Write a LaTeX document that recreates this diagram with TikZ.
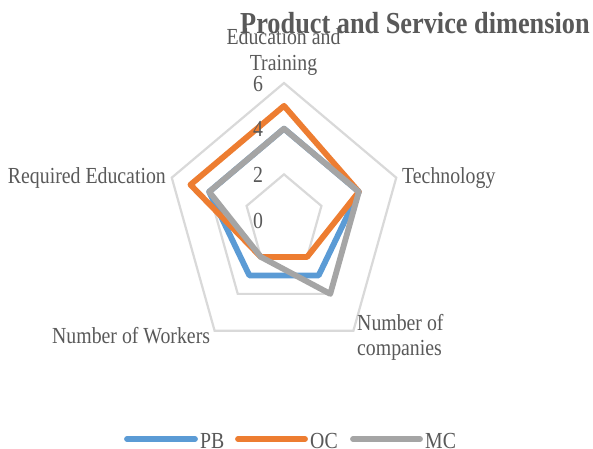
\documentclass[tikz,border=0pt]{standalone}
\usepackage{fontspec}
\setmainfont{Liberation Serif}
\definecolor{pbc}{HTML}{5B9BD5}
\definecolor{occ}{HTML}{ED7D31}
\definecolor{mcc}{HTML}{A5A5A5}
\definecolor{gridc}{HTML}{D9D9D9}
\definecolor{txtc}{HTML}{595959}
\newcommand{\vs}[1]{\scalebox{1}[1.16]{#1}}
\begin{document}
\begin{tikzpicture}[x=1pt,y=-1pt,
  lbl/.style={font=\fontsize{19.8}{22}\selectfont, text=txtc, inner sep=0pt},
  titlestyle/.style={font=\fontsize{26.3}{30}\selectfont\bfseries, text=txtc, inner sep=0pt},
  gridline/.style={draw=gridc, line width=2.2pt, line join=miter},
  series/.style={line width=5.8pt, line join=round},
  legline/.style={line width=5.8pt, line cap=round}]
\useasboundingbox (0,0) rectangle (593,448);
\fill[white] (0,0) rectangle (593,448);
\begin{scope}[shift={(284,220)}, x=19.67pt, y=22.83pt]
  \foreach \r in {2,4,6} {
    \draw[gridline] (0,\r) -- ({\r*sin(72)},{\r*cos(72)}) -- ({\r*sin(144)},{\r*cos(144)})
      -- ({\r*sin(216)},{\r*cos(216)}) -- ({\r*sin(288)},{\r*cos(288)}) -- cycle;
  }
  \foreach \k/\v in {0/4,1/4,2/3,3/3,4/4} \coordinate (pb\k) at ({\v*sin(72*\k)},{\v*cos(72*\k)});
  \foreach \k/\v in {0/5,1/4,2/2,3/2,4/5} \coordinate (oc\k) at ({\v*sin(72*\k)},{\v*cos(72*\k)});
  \foreach \k/\v in {0/4,1/4,2/4,3/2,4/4} \coordinate (mc\k) at ({\v*sin(72*\k)},{\v*cos(72*\k)});
  \draw[series, pbc] (pb0) -- (pb1) -- (pb2) -- (pb3) -- (pb4) -- cycle;
  \draw[series, occ] (oc0) -- (oc1) -- (oc2) -- (oc3) -- (oc4) -- cycle;
  \draw[series, mcc] (mc0) -- (mc1) -- (mc2) -- (mc3) -- (mc4) -- cycle;
\end{scope}
% tick labels
\node[lbl, anchor=base] (t6) at (258,91) {\vs{6}};
\node[lbl, anchor=base] (t4) at (258,136) {\vs{4}};
\node[lbl, anchor=base] (t2) at (258,182) {\vs{2}};
\node[lbl, anchor=base] (t0) at (258,228) {\vs{0}};
% axis labels
\node[lbl, anchor=base] (edu1) at (283.5,44) {\vs{Education and}};
\node[lbl, anchor=base] (edu2) at (283.5,70) {\vs{Training}};
\node[lbl, anchor=base west] (tech) at (402,183) {\vs{Technology}};
\node[lbl, anchor=base east] (req) at (166,183) {\vs{Required Education}};
\node[lbl, anchor=base west] (work) at (52,343) {\vs{Number of Workers}};
\node[lbl, anchor=base west] (comp1) at (357,330) {\vs{Number of}};
\node[lbl, anchor=base west] (comp2) at (357,355) {\vs{companies}};
% title
\node[titlestyle, anchor=base west] (title) at (240,33) {\vs{Product and Service dimension}};
% legend
\coordinate (la1) at (127,439); \coordinate (lb1) at (195,439);
\coordinate (la2) at (238,439); \coordinate (lb2) at (305,439);
\coordinate (la3) at (353,439); \coordinate (lb3) at (420,439);
\draw[legline, pbc] (la1) -- (lb1);
\draw[legline, occ] (la2) -- (lb2);
\draw[legline, mcc] (la3) -- (lb3);
\node[lbl, anchor=base west] (lpb) at (200,448) {\vs{PB}};
\node[lbl, anchor=base west] (loc) at (310,448) {\vs{OC}};
\node[lbl, anchor=base west] (lmc) at (425,448) {\vs{MC}};
\end{tikzpicture}
\end{document}
